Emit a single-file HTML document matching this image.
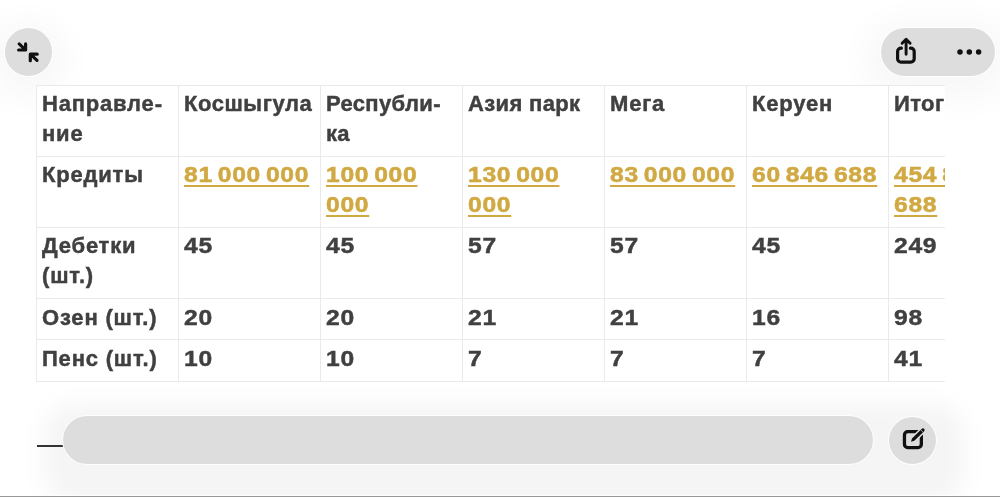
<!DOCTYPE html>
<html>
<head>
<meta charset="utf-8">
<style>
html,body{margin:0;padding:0;}
body{width:1000px;height:497px;overflow:hidden;background:#fff;position:relative;font-family:"Liberation Sans","DejaVu Sans",sans-serif;}
.wrap{position:absolute;left:36px;top:85px;width:909px;height:297px;overflow:hidden;background:#fff;z-index:1;}
table{border-collapse:separate;border-spacing:0;table-layout:fixed;width:995px;border-top:1px solid #eaeaea;border-left:1px solid #eaeaea;}
td{box-sizing:border-box;width:142px;border-right:1px solid #eaeaea;border-bottom:1px solid #eaeaea;padding:3px 0 0 5px;vertical-align:top;
  font-weight:bold;font-size:22px;line-height:30px;color:#404040;white-space:nowrap;letter-spacing:0.8px;-webkit-text-stroke:0.45px currentColor;}

tr.r2 td{height:71px;}
tr.r1 td{height:71px;}
tr.r4 td{height:41px;padding-top:4px;}
tr.r5 td{height:42px;padding-top:4px;}
a{color:#d1a942;text-decoration:underline;text-decoration-thickness:2.4px;text-underline-offset:3px;-webkit-text-stroke:0.55px currentColor;}
.n{display:inline-block;transform:scaleX(1.12);transform-origin:0 0;letter-spacing:0.65px;word-spacing:-2.4px;}
.btn{position:absolute;z-index:2;background:#dddddd;border-radius:24px;box-shadow:0 0 0 1px rgba(255,255,255,0.85);}
.glow{position:absolute;z-index:0;border-radius:40px;box-shadow:0 0 24px 10px rgba(0,0,0,0.035);}
.botline{position:absolute;left:0;top:495px;width:1000px;height:2px;background:linear-gradient(#fdfdfd 0,#fdfdfd 1px,#989898 1px,#989898 2px);}
</style>
</head>
<body>
<div class="wrap">
<table>
<tr class="r1"><td>Направле-<br>ние</td><td style="letter-spacing:0.55px">Косшыгула</td><td style="letter-spacing:0.35px">Республи-<br>ка</td><td style="letter-spacing:0.35px">Азия парк</td><td>Мега</td><td>Керуен</td><td style="letter-spacing:0.4px">Итого</td></tr>
<tr class="r2"><td>Кредиты</td><td><a class="n">81 000 000</a></td><td><a class="n">100 000</a><br><a class="n">000</a></td><td><a class="n">130 000</a><br><a class="n">000</a></td><td><a class="n">83 000 000</a></td><td><a class="n">60 846 688</a></td><td><a class="n">454 846</a><br><a class="n">688</a></td></tr>
<tr class="r1"><td>Дебетки<br>(шт.)</td><td><span class="n">45</span></td><td><span class="n">45</span></td><td><span class="n">57</span></td><td><span class="n">57</span></td><td><span class="n">45</span></td><td><span class="n">249</span></td></tr>
<tr class="r4"><td>Озен (шт.)</td><td><span class="n">20</span></td><td><span class="n">20</span></td><td><span class="n">21</span></td><td><span class="n">21</span></td><td><span class="n">16</span></td><td><span class="n">98</span></td></tr>
<tr class="r5"><td>Пенс (шт.)</td><td><span class="n">10</span></td><td><span class="n">10</span></td><td><span class="n">7</span></td><td><span class="n">7</span></td><td><span class="n">7</span></td><td><span class="n">41</span></td></tr>
</table>
</div>

<!-- top-left collapse button -->
<div class="glow" style="left:4px;top:28px;width:48px;height:48px;box-shadow:0 8px 36px 14px rgba(0,0,0,0.035);"></div>
<div class="btn" style="left:4.5px;top:28px;width:47.5px;height:47.5px;"></div>
<svg style="position:absolute;z-index:3;left:0;top:0" width="60" height="80" viewBox="0 0 60 80">
  <g fill="none" stroke="#111" stroke-width="3.2" stroke-linecap="round" stroke-linejoin="round">
    <path d="M19.2 43.9 L25.5 49.9 M18.6 50 H25.6 V43.9"/>
    <path d="M37.0 60.4 L30.6 54.4 M30.3 60.7 V54.2 H37.2"/>
  </g>
</svg>

<!-- top-right pill -->
<div class="glow" style="left:880px;top:28px;width:115px;height:48px;box-shadow:0 8px 36px 14px rgba(0,0,0,0.035);"></div>
<div class="btn" style="left:880.5px;top:28px;width:114.5px;height:47.5px;"></div>
<svg style="position:absolute;z-index:3;left:880px;top:20px" width="120" height="60" viewBox="880 20 120 60">
  <path d="M901.4 48.2 H901.0 A3.4 3.4 0 0 0 897.6 51.6 V58.7 A3.4 3.4 0 0 0 901.0 62.1 H910.8 A3.4 3.4 0 0 0 914.2 58.7 V51.6 A3.4 3.4 0 0 0 910.8 48.2 H910.4" fill="none" stroke="#111" stroke-width="3.2" stroke-linecap="round" stroke-linejoin="round"/>
  <path d="M906.1 54.2 V39.8 M902.1 43.3 L906.1 39.3 L910.1 43.3" fill="none" stroke="#111" stroke-width="2.9" stroke-linecap="round" stroke-linejoin="round"/>
  <g fill="#111">
    <circle cx="960" cy="52" r="2.75"/>
    <circle cx="969.3" cy="52" r="2.75"/>
    <circle cx="978.6" cy="52" r="2.75"/>
  </g>
</svg>

<!-- bottom bar -->
<div style="position:absolute;left:44px;top:404px;width:920px;height:100px;border-radius:30px;background:rgba(0,0,0,0.038);filter:blur(11px);"></div>
<div class="btn" style="left:63px;top:416px;width:810px;height:47.5px;"></div>
<div style="position:absolute;left:37px;top:445px;width:26px;height:2.2px;background:#333;"></div>
<div class="btn" style="left:889.2px;top:416.5px;width:47px;height:47px;"></div>
<svg style="position:absolute;z-index:3;left:880px;top:410px" width="60" height="60" viewBox="880 410 60 60">
  <path d="M907.75 431.65 A3.3 3.3 0 0 0 904.45 434.95 V444.35 A3.3 3.3 0 0 0 907.75 447.65 H918.05 A3.3 3.3 0 0 0 921.35 444.35 V434.95 A3.3 3.3 0 0 0 918.05 431.65 Z" fill="none" stroke="#111" stroke-width="3.3" stroke-linejoin="round"/>
  <path d="M911.00 441.80 L914.30 440.87 L924.18 431.13 A1.65 1.65 0 0 0 921.87 428.78 L911.98 438.52 Z" fill="#111" stroke="#dddddd" stroke-width="3.2" paint-order="stroke" stroke-linejoin="round"/>
  <path d="M923.46 432.61 L920.38 429.48" stroke="#dddddd" stroke-width="0.7"/>
</svg>

<div class="botline"></div>
</body>
</html>
